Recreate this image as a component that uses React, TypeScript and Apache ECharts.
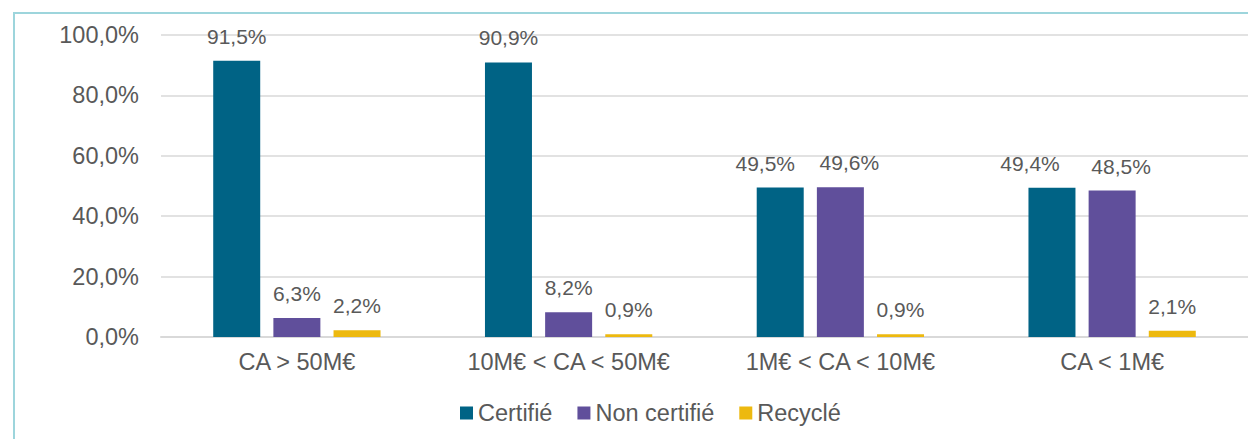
import React, { useEffect, useRef } from "react";
import * as echarts from "echarts";

const categories = ["CA > 50M€", "10M€ < CA < 50M€", "1M€ < CA < 10M€", "CA < 1M€"];
const seriesNames = ["Certifié", "Non certifié", "Recyclé"];
const certifie = [91.5, 90.9, 49.5, 49.4];
const nonCertifie = [6.3, 8.2, 49.6, 48.5];
const recycle = [2.2, 0.9, 0.9, 2.1];
const colors = ["#006385", "#604f9b", "#edb90f"];

const fmt = (v: number) => v.toFixed(1).replace(".", ",") + "%";
const FONT = "'Liberation Sans', Arial, sans-serif";
const TXT = "#595959";

// horizontal nudges of overlapping data labels (layout only): [seriesIndex][categoryIndex]
const LABEL_NUDGE: number[][] = [
  [0, 0, -15, -22],
  [0, 0, 9, 9],
  [0, 0, 0, 0],
];

export default function App() {
  const ref = useRef<HTMLDivElement>(null);
  useEffect(() => {
    if (!ref.current) return;
    const chart = echarts.init(ref.current, undefined, { renderer: "svg" });
    const data = [certifie, nonCertifie, recycle];
    chart.setOption({
      animation: false,
      textStyle: { fontFamily: FONT },
      graphic: [
        {
          type: "rect",
          shape: { x: 14, y: 13, width: 1250, height: 440 },
          style: { fill: "none", stroke: "#9dd5dc", lineWidth: 2 },
          silent: true,
        },
      ],
      grid: { left: 161, top: 35, width: 1090, height: 302 },
      legend: {
        left: 455,
        top: 396,
        icon: "rect",
        itemWidth: 13,
        itemHeight: 13,
        itemGap: 25,
        data: seriesNames,
        textStyle: { fontSize: 23.5, color: TXT, fontFamily: FONT },
      },
      xAxis: {
        type: "category",
        data: categories,
        axisLine: { lineStyle: { color: "#d9d9d9", width: 2 } },
        axisTick: { show: false },
        axisLabel: { fontSize: 23.5, color: TXT, margin: 13, fontFamily: FONT },
      },
      yAxis: {
        type: "value",
        min: 0,
        max: 100,
        interval: 20,
        axisLine: { show: false },
        axisTick: { show: false },
        splitLine: { lineStyle: { color: "#d9d9d9", width: 1.5 } },
        axisLabel: {
          fontSize: 23.5,
          color: TXT,
          margin: 22,
          fontFamily: FONT,
          formatter: (v: number) => fmt(v),
        },
      },
      series: seriesNames.map((name, i) => ({
        name,
        type: "bar",
        data: data[i].map((v, j) =>
          LABEL_NUDGE[i][j] ? { value: v, label: { offset: [LABEL_NUDGE[i][j], 0] } } : v
        ),
        barWidth: 47,
        barGap: "28%",
        itemStyle: { color: colors[i] },
        label: {
          show: true,
          position: "top",
          distance: 14,
          fontSize: 21,
          color: TXT,
          fontFamily: FONT,
          formatter: (p: any) => fmt(p.value),
        },
      })),
    });
    return () => chart.dispose();
  }, []);
  return (
    <div
      ref={ref}
      style={{ position: "absolute", left: 0, top: 0, width: 1248, height: 439, background: "#fff" }}
    />
  );
}
